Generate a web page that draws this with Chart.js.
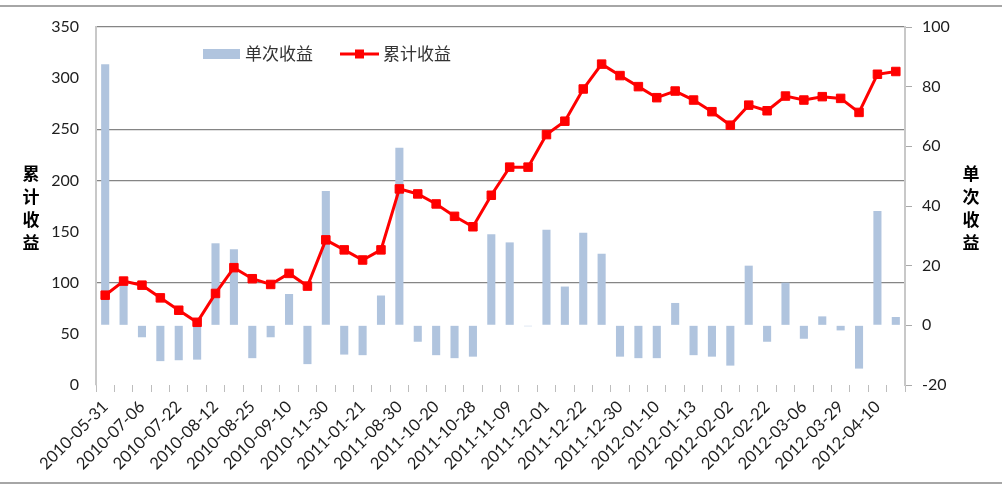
<!DOCTYPE html>
<html>
<head>
<meta charset="utf-8">
<script src="https://cdn.jsdelivr.net/npm/chart.js@4/dist/chart.umd.min.js"></script>
<style>
  html, body { margin: 0; padding: 0; background: #fff; }
  #wrap { position: relative; width: 1002px; height: 489px; }
  #chart { position: absolute; left: 0; top: 0; }
  .edge { position: absolute; left: 0; width: 1002px; height: 2px; background: #a6a6a6; }
</style>
</head>
<body>
<div id="wrap">
  <canvas id="chart" width="1002" height="489"></canvas>
  <div class="edge" style="top:5px"></div>
  <div class="edge" style="top:482px"></div>
</div>
<script>
// 日期（只标注偶数位置）
const dates = [
  '2010-05-31', '', '2010-07-06', '', '2010-07-22', '', '2010-08-12', '', '2010-08-25', '',
  '2010-09-10', '', '2010-11-30', '', '2011-01-21', '', '2011-08-30', '', '2011-10-20', '',
  '2011-10-28', '', '2011-11-09', '', '2011-12-01', '', '2011-12-22', '', '2011-12-30', '',
  '2012-01-10', '', '2012-01-13', '', '2012-02-02', '', '2012-02-22', '', '2012-03-06', '',
  '2012-03-29', '', '2012-04-10', ''
];

// 单次收益 (右轴)
const singleReturn = [
  87.5, 14, -4, -12, -11.7, -11.5, 27.5, 25.5, -11, -4,
  10.5, -13, 45, -9.8, -10, 10, 59.5, -5.5, -10, -11,
  -10.5, 30.5, 27.8, -0.3, 32, 13, 31, 24, -10.5, -11,
  -11, 7.5, -10, -10.5, -13.5, 20, -5.5, 14.3, -4.5, 3,
  -1.7, -14.5, 38.3, 2.8
];

// 累计收益 (左轴)
const cumReturn = [
  87.8, 101.6, 97.6, 85.2, 73.1, 61.3, 89.5, 114.7, 103.9, 98.3,
  109.1, 96.7, 141.9, 132.1, 122.2, 132.1, 191.7, 186.8, 177, 164.9,
  154.7, 185.5, 213, 213, 244.8, 257.9, 289.4, 313.7, 302.5, 291.7,
  280.9, 287.4, 278.6, 267.2, 254, 273.6, 268.1, 282.5, 278.6, 281.9,
  280.2, 266.5, 303.8, 306.5
];

const leftGridValues = [100, 200, 250, 350];
const leftTitle = '累计收益';
const rightTitle = '单次收益';

const barColor = '#b0c4de';
const lineColor = '#ff0000';
const textColor = '#1e1e1e';
const fontFamily = "Lato, 'Noto Sans CJK SC', sans-serif";
const cjkFont = "'Noto Sans CJK SC', sans-serif";

// 竖排轴标题 + 图例
const extrasPlugin = {
  id: 'extras',
  afterDraw(chart) {
    const ctx = chart.ctx;
    ctx.save();
    ctx.fillStyle = '#000';
    ctx.textAlign = 'center';
    ctx.textBaseline = 'middle';
    ctx.font = 'bold 17px ' + cjkFont;
    [...leftTitle].forEach((ch, i) => ctx.fillText(ch, 31, 174 + i * 23));
    [...rightTitle].forEach((ch, i) => ctx.fillText(ch, 971, 174 + i * 23));

    // 图例
    const ly = 54;
    ctx.fillStyle = barColor;
    ctx.fillRect(203, ly - 5, 37, 10);
    ctx.fillStyle = '#333';
    ctx.textAlign = 'left';
    ctx.font = '17px ' + cjkFont;
    ctx.fillText('单次收益', 245, ly);

    ctx.strokeStyle = lineColor;
    ctx.lineWidth = 3;
    ctx.beginPath();
    ctx.moveTo(340, ly);
    ctx.lineTo(379, ly);
    ctx.stroke();
    ctx.fillStyle = lineColor;
    ctx.fillRect(355, ly - 4.5, 9, 9);
    ctx.fillStyle = '#333';
    ctx.fillText('累计收益', 383, ly);
    ctx.restore();
  }
};

const ctx = document.getElementById('chart').getContext('2d');
new Chart(ctx, {
  data: {
    labels: dates,
    datasets: [
      {
        type: 'line',
        label: '累计收益',
        data: cumReturn,
        yAxisID: 'y',
        borderColor: lineColor,
        backgroundColor: lineColor,
        borderWidth: 3,
        pointStyle: 'rect',
        pointRadius: 6,
        pointBorderWidth: 1,
        pointBackgroundColor: lineColor,
        pointBorderColor: lineColor,
        tension: 0,
        order: 0
      },
      {
        type: 'bar',
        label: '单次收益',
        data: singleReturn,
        yAxisID: 'y1',
        backgroundColor: barColor,
        categoryPercentage: 1,
        barPercentage: 0.44,
        order: 1
      }
    ]
  },
  options: {
    responsive: false,
    animation: false,
    devicePixelRatio: 1,
    layout: { padding: { top: 27, left: 0, right: 0, bottom: 0 } },
    plugins: {
      legend: { display: false },
      tooltip: { enabled: false }
    },
    scales: {
      x: {
        type: 'category',
        offset: true,
        afterFit(scale) { scale.height = 104; },
        grid: {
          drawOnChartArea: false,
          offset: true,
          tickLength: 7,
          color: '#bdbdbd'
        },
        border: { display: false },
        ticks: {
          autoSkip: false,
          minRotation: 45,
          maxRotation: 45,
          padding: 5,
          color: textColor,
          font: { family: fontFamily, size: 16.5 },
          callback: (v, i) => dates[i]
        }
      },
      y: {
        position: 'left',
        min: 0,
        max: 350,
        afterFit(scale) { scale.width = 96; },
        grid: {
          drawTicks: false,
          lineWidth: 1.2,
          color: c => leftGridValues.includes(c.tick.value) ? '#858585' : 'rgba(0,0,0,0)'
        },
        border: { color: '#c8c8c8', width: 2 },
        ticks: {
          stepSize: 50,
          padding: 17,
          color: textColor,
          font: { family: fontFamily, size: 16 }
        }
      },
      y1: {
        position: 'right',
        min: -20,
        max: 100,
        afterFit(scale) { scale.width = 97; },
        grid: {
          drawOnChartArea: false,
          tickLength: 7,
          color: '#aaaaaa'
        },
        border: { color: '#c8c8c8', width: 2 },
        ticks: {
          stepSize: 20,
          padding: 10,
          color: textColor,
          font: { family: fontFamily, size: 16 }
        }
      }
    }
  },
  plugins: [extrasPlugin]
});
</script>
</body>
</html>
